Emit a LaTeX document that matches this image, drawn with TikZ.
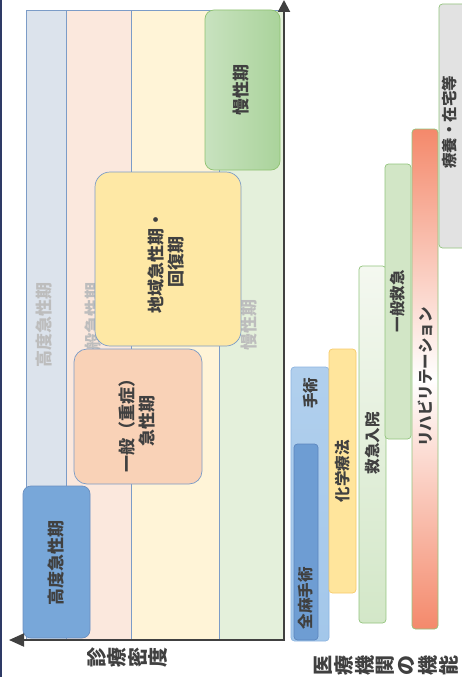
\documentclass[tikz,border=0pt]{standalone}
\usepackage{fontspec}
\setmainfont{Noto Sans CJK JP}
\usetikzlibrary{arrows.meta}
\definecolor{bA}{HTML}{DCE3EC}
\definecolor{bB}{HTML}{FBE8DD}
\definecolor{bC}{HTML}{FFF4D7}
\definecolor{bD}{HTML}{E4F0DB}
\definecolor{bandline}{HTML}{7C9CC7}
\definecolor{kodo}{HTML}{78A7D9}
\definecolor{kodoline}{HTML}{6A8FC0}
\definecolor{ippan}{HTML}{F9D2B7}
\definecolor{chiiki}{HTML}{FEE8A5}
\definecolor{manA}{HTML}{C8E2BF}
\definecolor{manB}{HTML}{AAD39B}
\definecolor{manline}{HTML}{8FC271}
\definecolor{txt}{HTML}{404040}
\definecolor{fade}{HTML}{BDBDBD}
\definecolor{shu}{HTML}{A3C7EA}
\definecolor{shuline}{HTML}{8DB5E0}
\definecolor{zenma}{HTML}{6E9DD3}
\definecolor{zenmaline}{HTML}{5C86BE}
\definecolor{kagaku}{HTML}{FFE59C}
\definecolor{kagakuline}{HTML}{F7CB6A}
\definecolor{kyuA}{HTML}{F4F8F0}
\definecolor{kyuB}{HTML}{D3E7C8}
\definecolor{greenline}{HTML}{93C47D}
\definecolor{ikyu}{HTML}{D2E6C6}
\definecolor{riha}{HTML}{F4896B}
\definecolor{ryoyo}{HTML}{E2E2E2}
\definecolor{axiscol}{HTML}{404040}
\definecolor{navy}{HTML}{2E3A66}
\begin{document}
\begin{tikzpicture}[x=1pt,y=-1pt,
  band/.style={draw=bandline, line width=0.7pt},
  mainbox/.style={draw=bandline, line width=0.7pt},
  bar/.style={line width=0.7pt, rounded corners=3.5pt},
  lbl/.style={rotate=90, text=txt, align=center, inner sep=0pt,
    font=\bfseries\fontsize{17}{20}\selectfont},
  barlbl/.style={rotate=90, text=txt, inner sep=0pt,
    font=\bfseries\fontsize{15.5}{17}\selectfont},
  fadelbl/.style={rotate=90, text=fade, inner sep=0pt,
    font=\bfseries\fontsize{17}{18}\selectfont},
  bigch/.style={rotate=90, text=txt, inner sep=0pt,
    font=\bfseries\fontsize{20}{21}\selectfont},
  axis/.style={draw=axiscol, line width=2pt}
]
\useasboundingbox (0,0) rectangle (461,677);
\fill[white] (0,0) rectangle (461,677);
\draw[navy, line width=1.5pt] (0.75,0) -- (0.75,677);

% bands
\draw[band, fill=bA] (26,10) rectangle (66,640);
\draw[band, fill=bB] (66,10) rectangle (131,640);
\draw[band, fill=bC] (131,10) rectangle (219,640);
\draw[band, fill=bD] (219,10) rectangle (283,640);

% faded band labels
\node[fadelbl] (fA) at (44,325) {高度急性期};
\node[fadelbl] (fB) at (93,325) {一般急性期};
\node[fadelbl] (fD) at (249,325) {慢性期};

% main boxes
\draw[draw=manline, line width=0.7pt, rounded corners=9pt, left color=manA, right color=manB]
  (205,10) rectangle (280,170);
\node[lbl] (man) at (241,90) {慢性期};

\draw[mainbox, fill=chiiki, rounded corners=15pt] (95,172) rectangle (241,346);
\node[lbl] (chiikiT) at (166,262) {地域急性期・\\回復期};

\draw[mainbox, fill=ippan, rounded corners=13pt] (74,349) rectangle (202,484);
\node[lbl] (ippanT) at (137,421) {一般（重症）\\急性期};

\draw[draw=kodoline, line width=0.7pt, fill=kodo, rounded corners=8pt] (23,486) rectangle (90,638);
\node[lbl] (kodoT) at (56,563) {高度急性期};

% axes
\coordinate (org) at (284,640);
\coordinate (ytip) at (284,0);
\coordinate (xtip) at (9,640);
\draw[axis, -{Triangle[length=12pt,width=12pt]}] (org) -- (ytip);
\draw[axis, -{Triangle[length=15pt,width=13pt]}] ([xshift=1pt]org) -- (xtip);

% bars
\draw[bar, draw=shuline, top color=shu!85!white, bottom color=shu] (291,367) rectangle (329,641);
\node[barlbl] (shuT) at (311,393) {手術};
\draw[bar, draw=zenmaline, fill=zenma] (294,444) rectangle (318,640);
\node[barlbl] (zenT) at (306,598) {全麻手術};

\draw[bar, draw=kagakuline, fill=kagaku] (329,349) rectangle (356,593);
\node[barlbl] (kagT) at (342.5,471) {化学療法};

\draw[bar, draw=greenline, top color=kyuA, bottom color=kyuB] (359,266) rectangle (386,623);
\node[barlbl] (kyuT) at (372.5,443) {救急入院};

\draw[bar, draw=greenline, fill=ikyu] (385,164) rectangle (411,439);
\node[barlbl] (ikyuT) at (398,301) {一般救急};

\draw[bar, draw=greenline, top color=riha, bottom color=riha, middle color=white] (412,129) rectangle (438,629);
\node[barlbl] (rihaT) at (425,377) {リハビリテーション};

\draw[bar, draw=greenline, fill=ryoyo] (439,4) rectangle (470,248);
\node[barlbl] (ryoT) at (450,122) {療養・在宅等};

% bottom labels
\foreach \ch [count=\i from 0] in {診,療,密,度}
  \node[bigch] (sm\i) at (97+20.3*\i,657) {\ch};
\foreach \ch [count=\i from 0] in {医,療,機,関,の,機,能}
  \node[bigch] (ik\i) at (323+20.9*\i,665) {\ch};
\end{tikzpicture}
\end{document}
